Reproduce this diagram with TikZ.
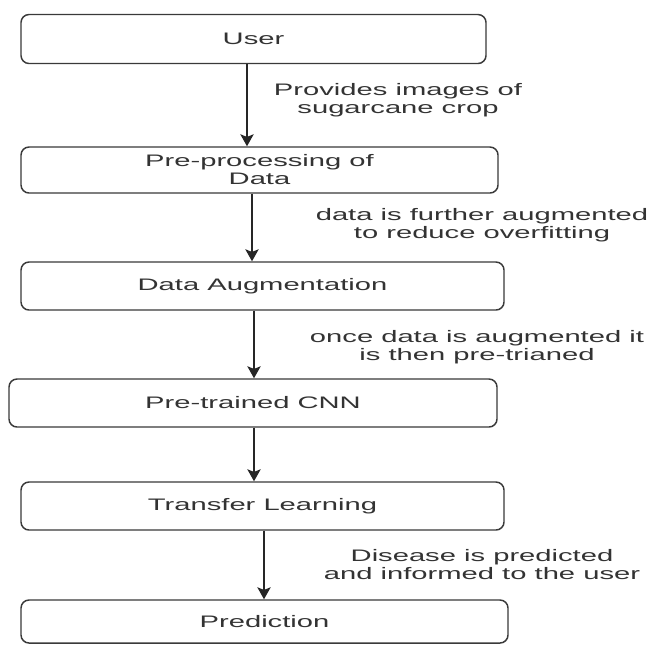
\documentclass[tikz,border=0pt]{standalone}
\usepackage{fontspec}
\setmainfont{Liberation Sans}
\usepackage{graphicx}
\usetikzlibrary{arrows.meta}
\definecolor{txt}{HTML}{333333}
\definecolor{edgec}{HTML}{3A3A3A}
\newcommand{\wtx}[1]{\scalebox{1.75}[1]{#1}}
\begin{document}
\begin{tikzpicture}[x=0.75pt,y=-0.75pt,
  box/.style={draw=edgec, line width=1.1pt, rounded corners=6pt, text=txt,
    font=\fontsize{12.5}{13.5}\selectfont, align=center, inner sep=0pt},
  lbl/.style={text=txt, font=\fontsize{12.5}{13.5}\selectfont, align=center, inner sep=0pt},
  conn/.style={draw=black!85, line width=1.1pt, -{Stealth[length=9pt,width=10pt,inset=2pt]}}]
\useasboundingbox (0,0) rectangle (670,644);
\fill[white] (0,0) rectangle (670,644);

\node[box, minimum width=348.75pt, minimum height=36.75pt] (user) at (253.5,39) {\wtx{User}};
\node[box, minimum width=357.75pt, minimum height=34.5pt] (pp) at (259.5,170) {\wtx{Pre-processing of}\\\wtx{Data}};
\node[box, minimum width=362.25pt, minimum height=36pt] (da) at (262.5,286) {\wtx{Data Augmentation}};
\node[box, minimum width=366pt, minimum height=36pt] (cnn) at (253,403) {\wtx{Pre-trained CNN}};
\node[box, minimum width=362.25pt, minimum height=36pt] (tl) at (262.5,506) {\wtx{Transfer Learning}};
\node[box, minimum width=365.25pt, minimum height=32.25pt] (pred) at (264.5,621.5) {\wtx{Prediction}};

\draw[conn] (user.south -| 247,0) -- (pp.north -| 247,0);
\draw[conn] (pp.south -| 252,0) -- (da.north -| 252,0);
\draw[conn] (da.south -| 254,0) -- (cnn.north -| 254,0);
\draw[conn] (cnn.south -| 254,0) -- (tl.north -| 254,0);
\draw[conn] (tl.south -| 264,0) -- (pred.north -| 264,0);

\node[lbl] (l1) at (398,100) {\wtx{Provides images of}\\\wtx{sugarcane crop}};
\node[lbl] (l2) at (482,225) {\wtx{data is further augmented}\\\wtx{to reduce overfitting}};
\node[lbl] (l3) at (477,347) {\wtx{once data is augmented it}\\\wtx{is then pre-trianed}};
\node[lbl] (l5) at (482,565) {\wtx{Disease is predicted}\\\wtx{and informed to the user}};
\end{tikzpicture}
\end{document}
